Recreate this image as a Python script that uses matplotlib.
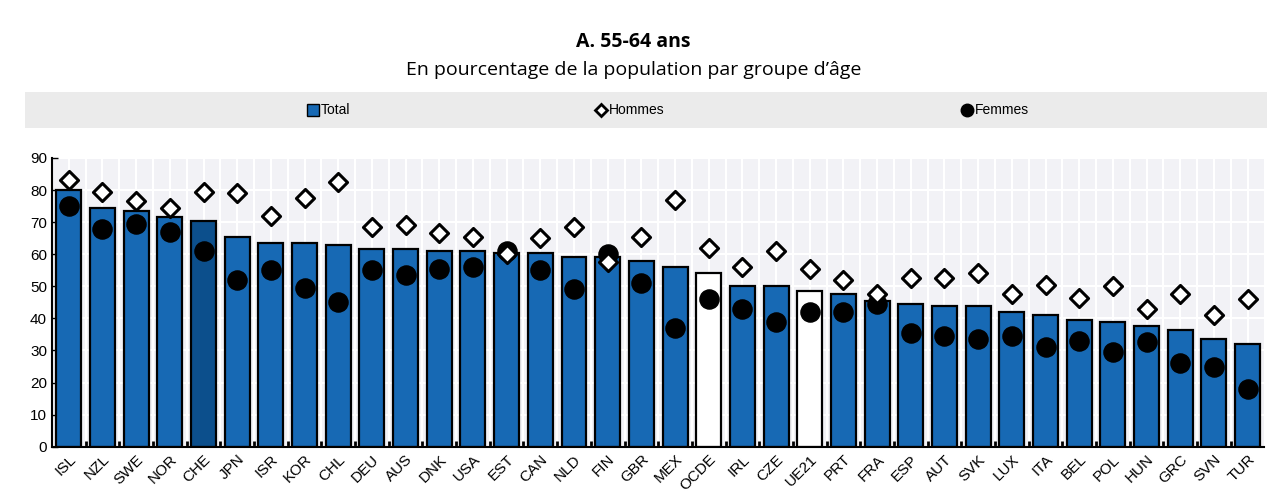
import numpy as np
import matplotlib.pyplot as plt

# Données
pays = ['ISL', 'NZL', 'SWE', 'NOR', 'CHE', 'JPN', 'ISR', 'KOR', 'CHL', 'DEU',
        'AUS', 'DNK', 'USA', 'EST', 'CAN', 'NLD', 'FIN', 'GBR', 'MEX', 'OCDE',
        'IRL', 'CZE', 'UE21', 'PRT', 'FRA', 'ESP', 'AUT', 'SVK', 'LUX', 'ITA',
        'BEL', 'POL', 'HUN', 'GRC', 'SVN', 'TUR']
total = [80, 74.5, 73.5, 71.5, 70.5, 65.5, 63.5, 63.5, 63, 61.5,
         61.5, 61, 61, 60.5, 60.5, 59, 59, 58, 56, 54,
         50, 50, 48.5, 47.5, 45.5, 44.5, 44, 44, 42, 41,
         39.5, 39, 37.5, 36.5, 33.5, 32]
hommes = [83, 79.5, 76.5, 74.5, 79.5, 79, 72, 77.5, 82.5, 68.5,
          69, 66.5, 65.5, 60, 65, 68.5, 57.5, 65.5, 77, 62,
          56, 61, 55.5, 52, 47.5, 52.5, 52.5, 54, 47.5, 50.5,
          46.5, 50, 43, 47.5, 41, 46]
femmes = [75, 68, 69.5, 67, 61, 52, 55, 49.5, 45, 55,
          53.5, 55.5, 56, 61, 55, 49, 60, 51, 37, 46,
          43, 39, 42, 42, 44.5, 35.5, 34.5, 33.5, 34.5, 31,
          33, 29.5, 32.5, 26, 25, 18]

bleu = '#1769b4'
bleu_fonce = '#0c4f8c'

plt.rcParams['font.family'] = ['Liberation Sans', 'DejaVu Sans']

fig = plt.figure(figsize=(12.67, 4.92), dpi=100)

fig.text(0.5, 0.915, 'A. 55-64 ans', ha='center', va='center',
         fontsize=14, fontweight='bold', family=['Open Sans', 'DejaVu Sans'])
fig.text(0.5, 0.858, "En pourcentage de la population par groupe d\u2019âge",
         ha='center', va='center', fontsize=14, family=['Open Sans', 'DejaVu Sans'])

# bande de légende
leg = fig.add_axes([0.02, 0.74, 0.98, 0.073])
leg.set_facecolor('#ebebeb')
leg.set_xlim(0, 1)
leg.set_ylim(0, 1)
leg.set_xticks([])
leg.set_yticks([])
for s in leg.spines.values():
    s.set_visible(False)
leg.plot(0.2315, 0.5, 's', ms=8, color=bleu, mec='black', mew=1)
leg.text(0.238, 0.5, 'Total', va='center', fontsize=10)
leg.plot(0.4635, 0.5, 'D', ms=6, mfc='white', mec='black', mew=2)
leg.text(0.470, 0.5, 'Hommes', va='center', fontsize=10)
leg.plot(0.758, 0.5, 'o', ms=9, color='black')
leg.text(0.765, 0.5, 'Femmes', va='center', fontsize=10)

ax = fig.add_axes([0.041, 0.092, 0.957, 0.587])
ax.set_facecolor('#f2f2f6')
x = np.arange(len(pays))
couleurs = []
for p in pays:
    if p in ('OCDE', 'UE21'):
        couleurs.append('white')
    elif p == 'CHE':
        couleurs.append(bleu_fonce)
    else:
        couleurs.append(bleu)
ax.bar(x, total, width=0.74, color=couleurs, edgecolor='black', linewidth=1.6, zorder=2)
ax.scatter(x, femmes, s=190, color='black', zorder=3)
ax.scatter(x, hommes, s=85, marker='D', facecolor='white', edgecolor='black',
           linewidth=2.2, zorder=4)

ax.set_xlim(-0.5, len(pays) - 0.5)
ax.set_ylim(0, 90)
ax.set_yticks(np.arange(0, 91, 10))
ax.set_xticks(x)
ax.set_xticklabels(pays, rotation=45, ha='right', rotation_mode='anchor', fontsize=11)
ax.set_xticks(x[:-1] + 0.5, minor=True)
ax.tick_params(axis='x', which='major', length=0, pad=4)
ax.tick_params(axis='x', which='minor', length=4, width=2, direction='in')
ax.tick_params(axis='y', length=4, width=1, labelsize=11, direction='in')
ax.grid(True, color='white', linewidth=1.5, zorder=0)
ax.grid(True, which='minor', axis='x', color='white', linewidth=1.5)
ax.set_axisbelow(True)
for s in ['top', 'right']:
    ax.spines[s].set_visible(False)
ax.spines['left'].set_linewidth(1.5)
ax.spines['bottom'].set_linewidth(1.5)

plt.savefig('out.png', dpi=100)
